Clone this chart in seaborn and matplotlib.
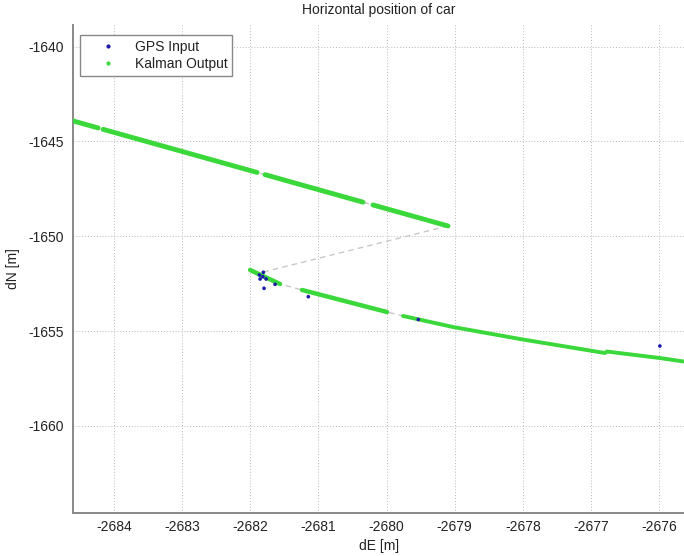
import matplotlib
matplotlib.use("Agg")
import matplotlib.pyplot as plt
from matplotlib.lines import Line2D
import seaborn as sns

# ---- data ----
# Kalman output, upper pass: segment endpoints (dE, dN)
upper_seg_e = [[-2684.602, -2684.235], [-2684.161, -2681.901], [-2681.784, -2680.346],
               [-2680.199, -2679.421], [-2679.392, -2679.098]]
upper_seg_n = [[-1643.919, -1644.288], [-1644.362, -1646.635], [-1646.751, -1648.201],
               [-1648.349, -1649.130], [-1649.161, -1649.456]]

# Kalman output, lower pass: segment vertices
lower_seg_e = [[-2682.004, -2681.564],
               [-2681.241, -2679.994],
               [-2679.759, -2679.025, -2677.998, -2677.015, -2676.795, -2676.765, -2675.987, -2675.635]]
lower_seg_n = [[-1651.777, -1652.515],
               [-1652.832, -1653.992],
               [-1654.200, -1654.783, -1655.443, -1656.023, -1656.155, -1656.076, -1656.419, -1656.604]]

# connecting track (gray dashed) at the jump
jump_e = [-2679.098, -2681.813]
jump_n = [-1649.456, -1651.888]

# GPS input points
gps_e = [-2681.809, -2681.868, -2681.818, -2681.857, -2681.769, -2681.637, -2681.799,
         -2681.149, -2679.534, -2675.987]
gps_n = [-1651.899, -1652.041, -1652.131, -1652.252, -1652.252, -1652.532, -1652.743,
         -1653.186, -1654.388, -1655.786]

x_ticks = [-2684, -2683, -2682, -2681, -2680, -2679, -2678, -2677, -2676]
y_ticks = [-1640, -1645, -1650, -1655, -1660]

title = "Horizontal position of car"
xlabel = "dE [m]"
ylabel = "dN [m]"

# ---- style ----
sns.set_style("white")
plt.rcParams['font.family'] = ['Liberation Sans', 'DejaVu Sans']

W, H = 684, 556
fig = plt.figure(figsize=(W / 100, H / 100), dpi=100)
left, right, top, bottom = 73.3, 684.5, 25, 513
ax = fig.add_axes([left / W, (H - bottom) / H, (right - left) / W, (bottom - top) / H])

green = '#3ad83a'
gray_track = '#c8c8c8'

# gray dashed track (upper pass, jump, lower pass)
up_e = [v for s in upper_seg_e for v in s]
up_n = [v for s in upper_seg_n for v in s]
lo_e = [v for s in lower_seg_e for v in s]
lo_n = [v for s in lower_seg_n for v in s]
for xe, yn in [(up_e, up_n), (jump_e, jump_n), (lo_e, lo_n)]:
    sns.lineplot(x=xe, y=yn, sort=False, estimator=None, ax=ax, color=gray_track,
                 lw=1.0, linestyle=(0, (4, 3)), zorder=2)

for se, sn in zip(upper_seg_e, upper_seg_n):
    sns.lineplot(x=se, y=sn, sort=False, estimator=None, ax=ax, color=green,
                 lw=3.5, zorder=3, solid_capstyle='round')
for i, (se, sn) in enumerate(zip(lower_seg_e, lower_seg_n)):
    sns.lineplot(x=se, y=sn, sort=False, estimator=None, ax=ax, color=green,
                 lw=3.2 if i < 2 else 2.8, zorder=3, solid_capstyle='round')

sns.scatterplot(x=gps_e, y=gps_n, ax=ax, color='#1c1ca8', s=7, edgecolor='none',
                zorder=4, legend=False)

ax.set_xlim(-2684.6, -2675.625)
ax.set_ylim(-1664.59, -1638.86)
ax.set_xticks(x_ticks)
ax.set_yticks(y_ticks)
ax.set_xticklabels([str(t) for t in x_ticks])
ax.set_yticklabels([str(t) for t in y_ticks])
ax.grid(True, linestyle=(0, (1, 2)), color='#b8b8b8', lw=0.7)
ax.set_axisbelow(True)

for s in ['top', 'right']:
    ax.spines[s].set_visible(False)
for s in ['left', 'bottom']:
    ax.spines[s].set_color('#888888')
    ax.spines[s].set_linewidth(1.4)

ax.tick_params(axis='x', direction='in', length=4, width=1, color='#888888',
               labelsize=10, labelcolor='#222222', pad=5)
ax.tick_params(axis='y', direction='inout', length=7, width=1, color='#888888',
               labelsize=10, labelcolor='#222222', pad=3)

ax.set_title(title, fontsize=10, color='#222222', pad=8)
ax.set_xlabel(xlabel, fontsize=10, color='#222222', labelpad=3.5)
ax.set_ylabel(ylabel, fontsize=10, color='#222222', labelpad=6)

handles = [
    Line2D([], [], linestyle='none', marker='.', markersize=4, color='#1c1ca8'),
    Line2D([], [], linestyle='none', marker='.', markersize=4, color=green),
]
ax_w = right - left
ax_h = bottom - top
leg = ax.legend(handles, ['GPS Input', 'Kalman Output'], loc='upper left',
                bbox_to_anchor=((80 - left) / ax_w, 1 - (35 - top) / ax_h),
                borderaxespad=0, fancybox=False, framealpha=1, edgecolor='#888888',
                fontsize=10, handlelength=3.3, handletextpad=0.3, borderpad=0.35,
                labelspacing=0.25)
leg.get_frame().set_linewidth(1.0)
for t in leg.get_texts():
    t.set_color('#222222')

fig.savefig('out.png', dpi=100)
